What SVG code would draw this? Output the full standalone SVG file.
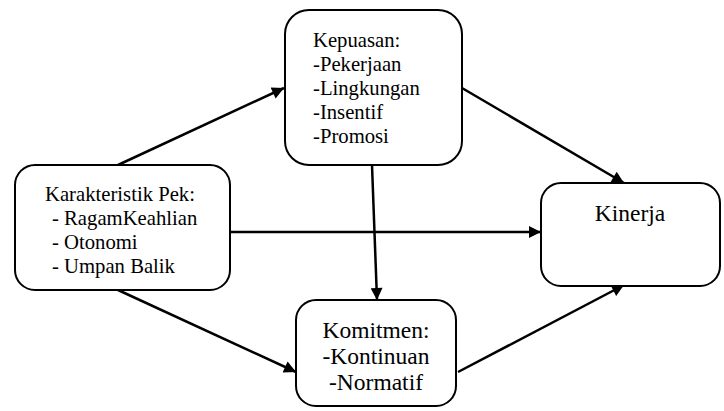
<svg xmlns="http://www.w3.org/2000/svg" width="724" height="411" viewBox="0 0 724 411">
<style>
.box{fill:#fff;stroke:#000;stroke-width:2}
text{font-family:'Liberation Serif','Times New Roman',serif;fill:#000}
.s{font-size:20.7px}
.l{font-size:23.5px}
.c{stroke:#000;stroke-width:2.5;fill:none;marker-end:url(#ah)}
</style>
<defs>
<marker id="ah" viewBox="0 0 10 10" refX="10" refY="5" markerUnits="userSpaceOnUse" markerWidth="14" markerHeight="12" orient="auto">
<path d="M0,0 L10,5 L0,10 Z" fill="#000"/>
</marker>
</defs>
<g id="connectors">
<line class="c" x1="118" y1="165" x2="284" y2="88"/>
<line class="c" x1="462" y1="88" x2="624" y2="183"/>
<line class="c" x1="230" y1="232" x2="541" y2="232"/>
<line class="c" x1="118" y1="290" x2="296" y2="372"/>
<line class="c" x1="372" y1="165" x2="377" y2="300"/>
<line class="c" x1="458" y1="372" x2="624" y2="285"/>
</g>
<g id="kepuasan">
<rect class="box" x="285" y="10" width="177" height="155" rx="24"/>
<text class="s" x="313" y="47">Kepuasan:</text>
<text class="s" x="313" y="71">-Pekerjaan</text>
<text class="s" x="313" y="95">-Lingkungan</text>
<text class="s" x="313" y="119">-Insentif</text>
<text class="s" x="313" y="143">-Promosi</text>
</g>
<g id="karakteristik">
<rect class="box" x="15" y="165" width="215" height="125" rx="20"/>
<text class="s" x="45" y="201">Karakteristik Pek:</text>
<text class="s" x="52" y="225">- RagamKeahlian</text>
<text class="s" x="52" y="249">- Otonomi</text>
<text class="s" x="52" y="273">- Umpan Balik</text>
</g>
<g id="komitmen">
<rect class="box" x="296" y="300" width="160" height="106" rx="20"/>
<text class="l" x="376" y="338" text-anchor="middle">Komitmen:</text>
<text class="l" x="376" y="364" text-anchor="middle">-Kontinuan</text>
<text class="l" x="376" y="390" text-anchor="middle">-Normatif</text>
</g>
<g id="kinerja">
<rect class="box" x="541" y="183" width="179" height="103" rx="20"/>
<text class="l" x="630" y="221" text-anchor="middle">Kinerja</text>
</g>
</svg>
